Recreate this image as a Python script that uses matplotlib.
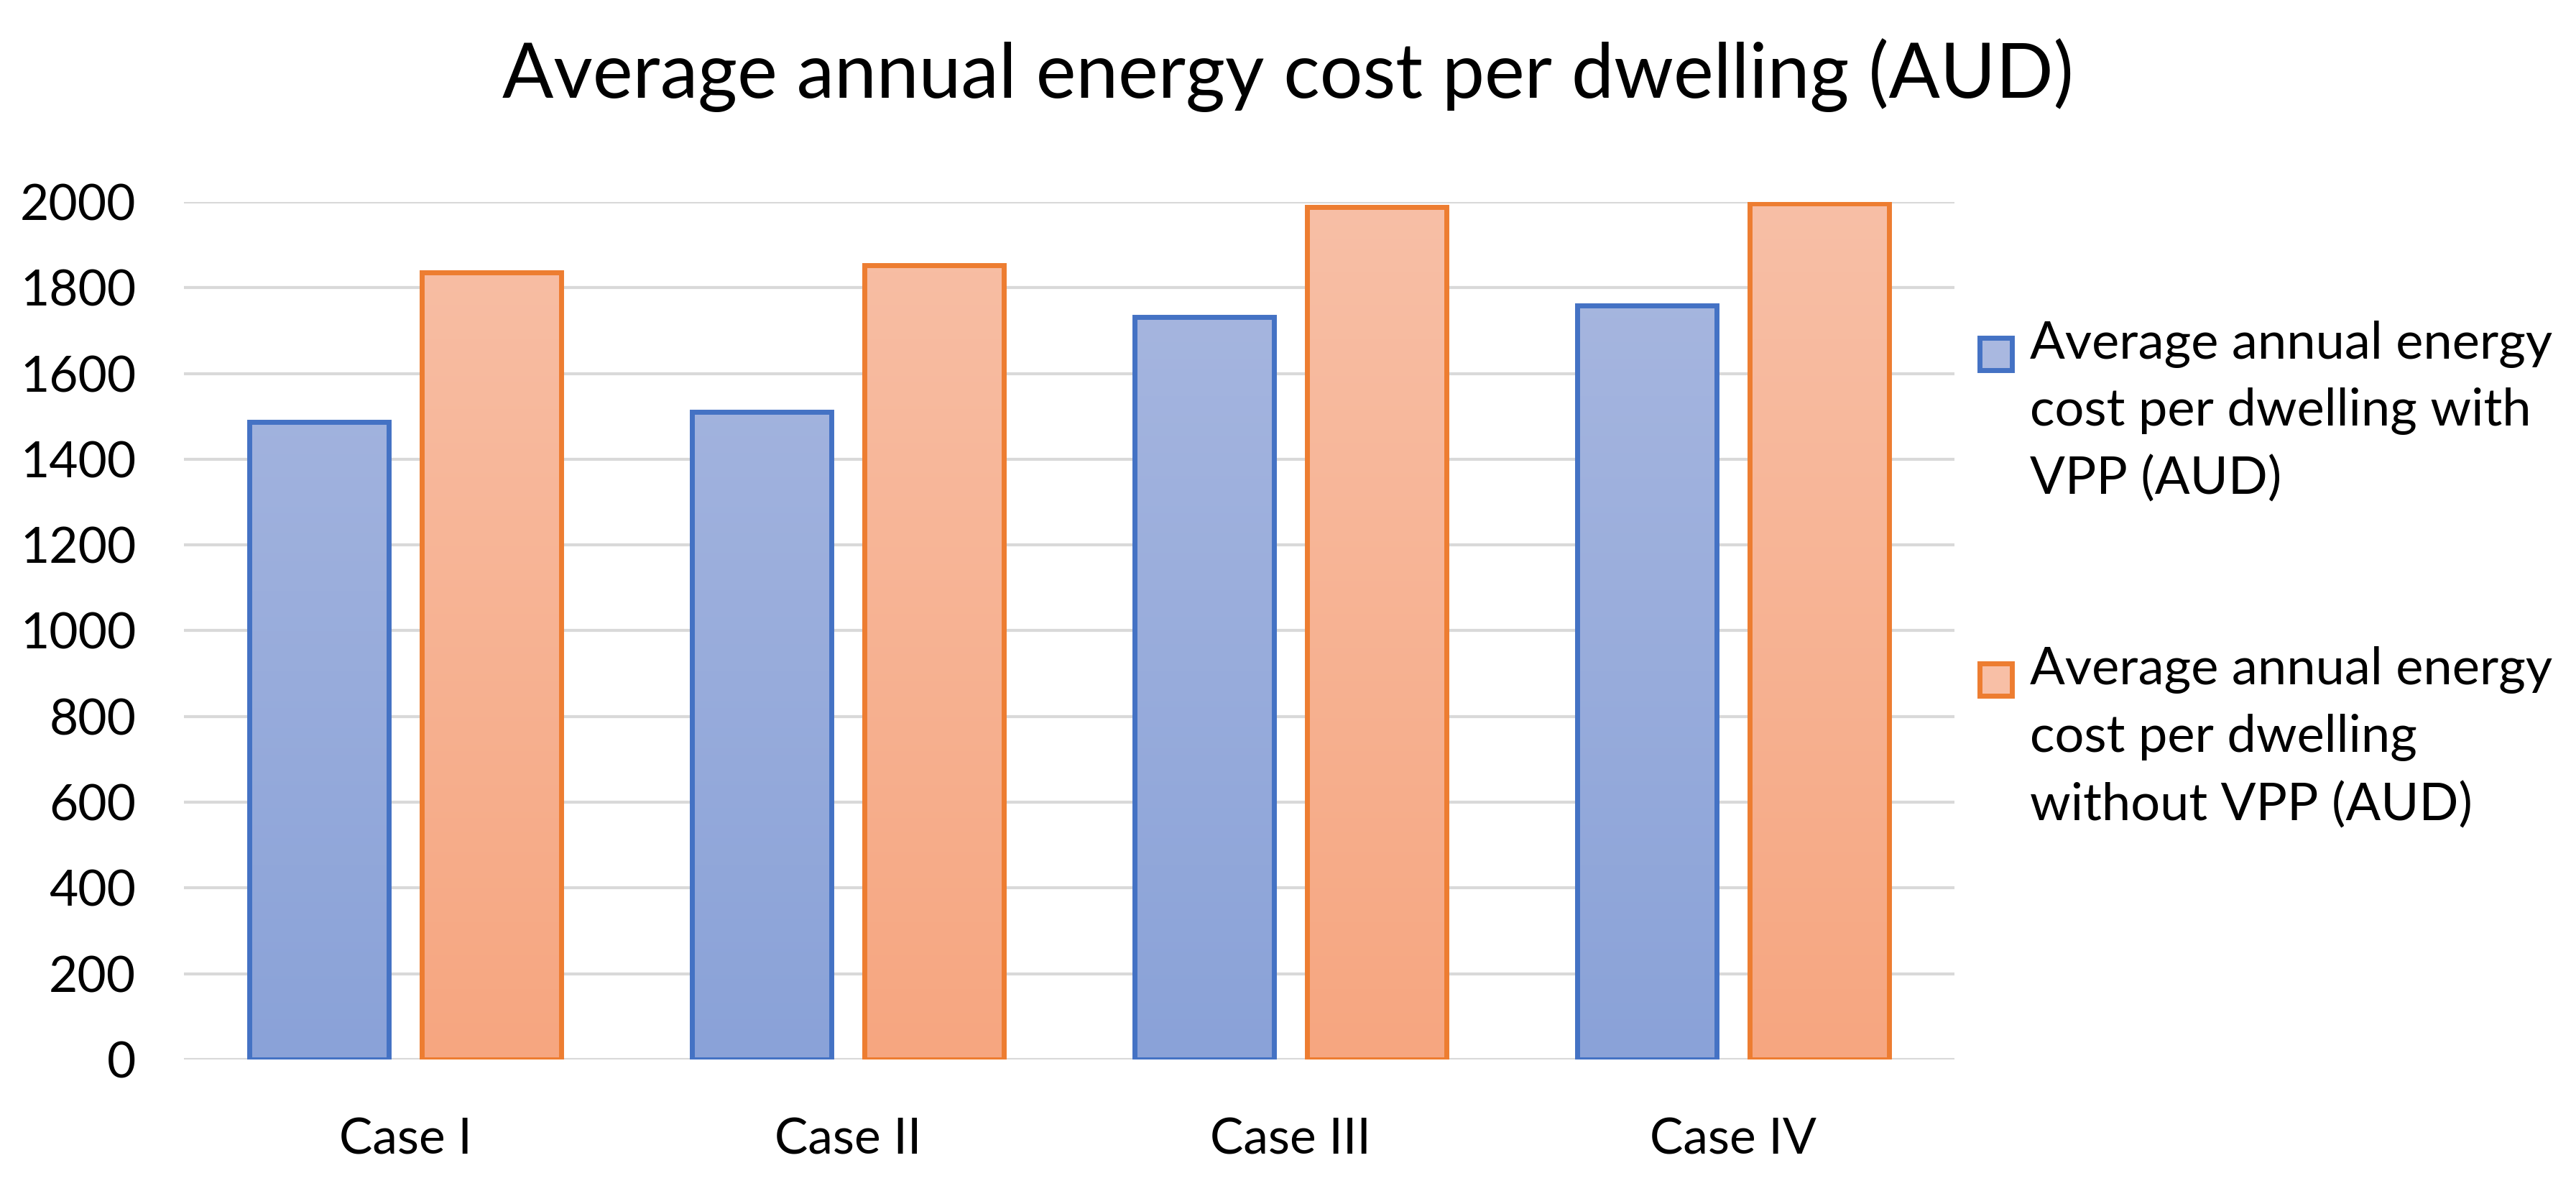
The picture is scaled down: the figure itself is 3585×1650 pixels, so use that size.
import numpy as np
import matplotlib
matplotlib.use('Agg')
import matplotlib.pyplot as plt
from matplotlib.patches import Rectangle

cases = ['Case I', 'Case II', 'Case III', 'Case IV']
with_vpp = [1487, 1510, 1732, 1759]
without_vpp = [1836, 1853, 1988, 1996]
series_names = ['Average annual energy\ncost per dwelling with\nVPP (AUD)',
                'Average annual energy\ncost per dwelling\nwithout VPP (AUD)']
yticks = list(range(0, 2001, 200))

plt.rcParams['font.family'] = ['Lato', 'DejaVu Sans']

blue_edge, blue_top, blue_bot = '#4472C4', '#A9B8E0', '#8AA2D8'
orange_edge, orange_top, orange_bot = '#ED7D31', '#F8BFA6', '#F6A680'

fig = plt.figure(figsize=(35.85, 16.5), dpi=100)
ax = fig.add_axes([0.0714, 0.1067, 0.6873, 0.7230])

x = np.arange(len(cases))
width = 0.315
offset = 0.195


def gradient_bars(xpos, values, edge, top, bot):
    bars = ax.bar(xpos, values, width, facecolor='none', edgecolor=edge,
                  linewidth=5, zorder=3)
    cmap = matplotlib.colors.LinearSegmentedColormap.from_list('g', [bot, top])
    grad = np.linspace(0, 1, 256).reshape(-1, 1)
    for b in bars:
        x0 = b.get_x()
        im = ax.imshow(grad, cmap=cmap, origin='lower', aspect='auto',
                       extent=[x0, x0 + b.get_width(), 0, 2000], zorder=2)
        im.set_clip_path(b)
    return bars


gradient_bars(x - offset, with_vpp, blue_edge, blue_top, blue_bot)
gradient_bars(x + offset, without_vpp, orange_edge, orange_top, orange_bot)

ax.set_xlim(-0.5, len(cases) - 0.5)
ax.set_ylim(0, 2000)
ax.set_yticks(yticks)
ax.set_xticks(x)
ax.set_xticklabels(cases)
ax.yaxis.grid(True, color='#D9D9D9', linewidth=3, zorder=0)
ax.set_axisbelow(True)
for s in ax.spines.values():
    s.set_visible(False)
ax.tick_params(axis='y', length=0, labelsize=50, pad=48)
ax.tick_params(axis='x', length=0, labelsize=50, pad=58)

fig.suptitle('Average annual energy cost per dwelling (AUD)', fontsize=76,
             x=0.5, y=0.968, va='top')

# legend drawn by hand so the swatch sits on the first text line
swatch_y = [0.688, 0.4135]
text_y = [0.730, 0.455]
for name, edge, top, yy, ty in zip(series_names, [blue_edge, orange_edge],
                                   [blue_top, orange_top], swatch_y, text_y):
    fig.patches.append(Rectangle((0.7685, yy), 0.0125, 0.0272, transform=fig.transFigure,
                                 facecolor=top, edgecolor=edge, linewidth=5))
    fig.text(0.788, ty, name, fontsize=52, va='top', ha='left', linespacing=1.52)

fig.savefig('out.png', dpi=100)
